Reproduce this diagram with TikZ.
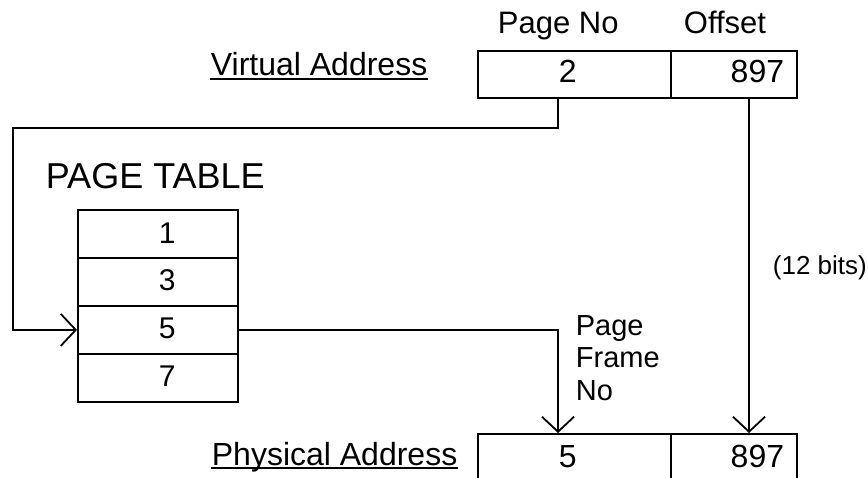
\documentclass[tikz,border=0pt]{standalone}
\usepackage{fontspec}
\setmainfont{Liberation Sans}
\usetikzlibrary{arrows.meta}
\begin{document}
\begin{tikzpicture}[x=1pt,y=-1pt,line width=1.8pt,
  txt/.style={anchor=base west,inner sep=0pt,font=\fontsize{#1}{#1}\selectfont},
  txtr/.style={anchor=base east,inner sep=0pt,font=\fontsize{#1}{#1}\selectfont},
  cell/.style={draw,rectangle,inner sep=0pt,minimum width=#1,minimum height=48pt,anchor=north west},
  arr/.style={-{Straight Barb[length=15pt,width=32pt,line width=1.8pt]}},
  uline/.style={line width=1.5pt}]
\clip (0,0) rectangle (868,478);
% Virtual address
\node[txt=31] (pno) at (497,34) {Page No};
\node[txt=31] (ofs) at (683,34) {Offset};
\node[txt=32] (va) at (210,76) {Virtual Address};
\draw[uline] ([yshift=-3pt]va.base west) -- ([yshift=-3pt]va.base east);
\node[draw,rectangle,inner sep=0pt,minimum width=193pt,minimum height=47pt,anchor=north west] (vpage) at (477,50) {};
\node[draw,rectangle,inner sep=0pt,minimum width=126pt,minimum height=47pt,anchor=north west] (voff) at (670,50) {};
\node[txt=32] (v2) at (558,83) {2};
\node[txtr=32] (v897) at (785,83) {897};
% page table
\node[txt=36] (pt) at (45,189) {PAGE TABLE};
\node[cell=160pt] (r1) at (77,209) {};
\node[cell=160pt] (r3) at (77,257) {};
\node[cell=160pt] (r5) at (77,305) {};
\node[cell=160pt] (r7) at (77,353) {};
\node[txt=30] (t1) at (158,244) {1};
\node[txt=30] (t3) at (158,291) {3};
\node[txt=30] (t5) at (158,339) {5};
\node[txt=30] (t7) at (158,387) {7};
% physical address
\node[txt=32] (pa) at (211,465) {Physical Address};
\draw[uline] ([yshift=-3pt]pa.base west) -- ([yshift=-3pt]pa.base east);
\node[draw,rectangle,inner sep=0pt,minimum width=193pt,minimum height=60pt,anchor=north west] (ppage) at (477,433) {};
\node[draw,rectangle,inner sep=0pt,minimum width=126pt,minimum height=60pt,anchor=north west] (poff) at (670,433) {};
\node[txt=32] (p5) at (558,467) {5};
\node[txtr=32] (p897) at (785,467) {897};
% labels
\node[txt=26] (bits) at (772,275) {(12 bits)};
\node[txt=29] (pf1) at (575,336) {Page};
\node[txt=29] (pf2) at (575,368) {Frame};
\node[txt=29] (pf3) at (575,400) {No};
% connectors
\coordinate (vtap) at (558,97);
\coordinate (otap) at (749,97);
\coordinate (ptip) at (558,433);
\coordinate (otip) at (749,433);
\draw[arr] (vtap) -- (558,128) -- (13,128) |- (r5.west);
\draw[arr] (otap) -- (otip);
\draw[arr] (r5.east) -| (ptip);
\end{tikzpicture}
\end{document}
